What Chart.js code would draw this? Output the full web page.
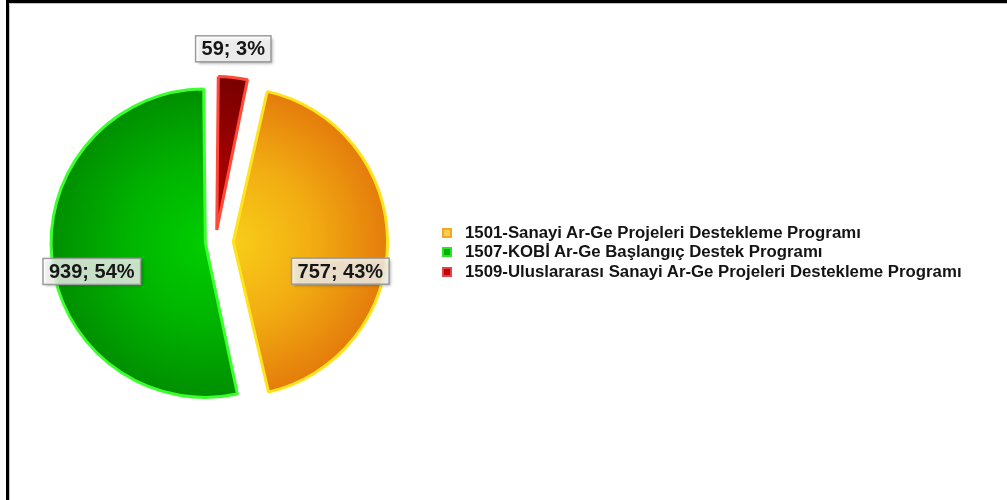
<!DOCTYPE html>
<html lang="tr">
<head>
<meta charset="utf-8">
<title>Program bazında proje sayıları</title>
<script src="https://cdn.jsdelivr.net/npm/chart.js@4.4.1/dist/chart.umd.min.js"></script>
<style>
  html, body { margin: 0; padding: 0; background: #fff; }
  #wrap { position: relative; width: 1007px; height: 500px; overflow: hidden; }
  #frame {
    position: absolute; left: 6px; top: 0; right: 0; bottom: 0;
    border-left: 3px solid #000; border-top: 3px solid #000;
    box-shadow: inset 1px 1px 0 #c4c4c4;
  }
  #chart { position: absolute; left: 0; top: 0; }
  #legend {
    position: absolute; left: 442px; top: 223px;
    margin: 0; padding: 0; list-style: none;
    font: bold 16.8px "Liberation Sans", Arial, sans-serif; color: #141414;
  }
  #legend li { display: flex; align-items: center; height: 19.5px; white-space: nowrap; }
  #legend .sw { width: 6px; height: 6px; border: 2px solid; margin-right: 13px; flex: none; }
</style>
</head>
<body>
<div id="wrap">
  <div id="frame"></div>
  <canvas id="chart" width="1007" height="500"></canvas>
  <ul id="legend"></ul>
</div>
<script>
// ── Data ───────────────────────────────────────────────────────────────────────
const PROGRAMS = [
  '1501-Sanayi Ar-Ge Projeleri Destekleme Programı',
  '1507-KOBİ Ar-Ge Başlangıç Destek Programı',
  '1509-Uluslararası Sanayi Ar-Ge Projeleri Destekleme Programı',
];
const PROJECTS = [757, 939, 59];

const TOTAL = PROJECTS.reduce((a, b) => a + b, 0);

// ── Slice look ─────────────────────────────────────────────────────────────────
const FILL_CENTER = ['#f8cd19', '#00cd00', '#c20000'];
const FILL_MID    = ['#f2ad12', '#00b400', '#9c0000'];
const FILL_EDGE   = ['#e47b0b', '#008e00', '#780000'];
const EDGE_LINE   = ['#ffe31f', '#3cff2e', '#ff4a3a'];
const SWATCH_RIM  = ['#f2a91e', '#2fe02f', '#e04646'];
const SWATCH_CORE = ['#f8cd5c', '#00b300', '#c40000'];
const EXPLODE     = [71, 41, 48];   // arc 'offset' (Chart.js moves the arc by offset / 4)
const RADIUS = 144;

// value boxes: fraction along the slice sweep, distance from the slice tip
const LABEL_SWEEP = [0.6, 0.46, 0.43];
const LABEL_DIST  = [111, 117, 182];

// the small slice sits at 12 o'clock, the first one starts right after it
const ROTATION = PROJECTS[2] / TOTAL * 360;

function sliceGeometry(chart, i) {
  const area = chart.chartArea;
  const cx = (area.left + area.right) / 2;
  const cy = (area.top + area.bottom) / 2;
  let start = (ROTATION - 90) * Math.PI / 180;
  for (let k = 0; k < i; k++) start += PROJECTS[k] / TOTAL * 2 * Math.PI;
  const end = start + PROJECTS[i] / TOTAL * 2 * Math.PI;
  const mid = (start + end) / 2;
  const shift = EXPLODE[i] / 4;
  return { cx, cy, x: cx + Math.cos(mid) * shift, y: cy + Math.sin(mid) * shift, start, end };
}

function sliceFill(ctx) {
  const i = ctx.dataIndex;
  const chart = ctx.chart;
  if (!chart.chartArea) return FILL_EDGE[i];
  // arcs are drawn after a translate, so the gradient stays on the pie centre
  const g = sliceGeometry(chart, i);
  const grad = chart.ctx.createRadialGradient(g.cx, g.cy, 0, g.cx, g.cy, RADIUS + 12);
  grad.addColorStop(0, FILL_CENTER[i]);
  grad.addColorStop(0.5, FILL_MID[i]);
  grad.addColorStop(1, FILL_EDGE[i]);
  return grad;
}

// ── "value; percent" boxes ─────────────────────────────────────────────────────
const valueBoxes = {
  id: 'valueBoxes',
  afterDatasetsDraw(chart) {
    const ctx = chart.ctx;
    ctx.save();
    ctx.font = 'bold 20px "Liberation Sans", Arial, sans-serif';
    ctx.textAlign = 'center';
    ctx.textBaseline = 'middle';
    PROJECTS.forEach((v, i) => {
      const g = sliceGeometry(chart, i);
      const a = g.start + (g.end - g.start) * LABEL_SWEEP[i];
      const x = g.x + Math.cos(a) * LABEL_DIST[i];
      const y = g.y + Math.sin(a) * LABEL_DIST[i];
      const text = `${v}; ${Math.round(v / TOTAL * 100)}%`;
      const w = ctx.measureText(text).width + 12;
      const h = 26;

      ctx.save();
      ctx.shadowColor = 'rgba(0, 0, 0, 0.45)';
      ctx.shadowBlur = 3;
      ctx.shadowOffsetX = 2;
      ctx.shadowOffsetY = 2;
      ctx.fillStyle = 'rgba(255, 255, 255, 0.78)';
      ctx.fillRect(x - w / 2, y - h / 2, w, h);
      ctx.restore();

      ctx.strokeStyle = '#9b9b9b';
      ctx.lineWidth = 1.5;
      ctx.strokeRect(x - w / 2, y - h / 2, w, h);
      ctx.fillStyle = '#161616';
      ctx.fillText(text, x, y + 1);
    });
    ctx.restore();
  },
};

// ── Chart ──────────────────────────────────────────────────────────────────────
const chart = new Chart(document.getElementById('chart'), {
  type: 'pie',
  data: {
    labels: PROGRAMS,
    datasets: [{
      data: PROJECTS,
      backgroundColor: sliceFill,
      borderColor: EDGE_LINE,
      borderWidth: 3,
      offset: EXPLODE,
      hoverOffset: 0,
    }],
  },
  options: {
    responsive: false,
    animation: false,
    rotation: ROTATION,
    radius: RADIUS,
    // pie keeps to the left part of the canvas, the legend list sits to its right
    layout: { padding: { left: 0, right: 576, top: 0, bottom: 16 } },
    plugins: {
      tooltip: { enabled: false },
      legend: { display: false },
    },
  },
  plugins: [valueBoxes],
});

// ── Legend (too wide for Chart.js's side-legend limit, so it is a list) ─────────
const legendEl = document.getElementById('legend');
chart.data.labels.forEach((text, i) => {
  const li = document.createElement('li');
  const sw = document.createElement('span');
  sw.className = 'sw';
  sw.style.borderColor = SWATCH_RIM[i];
  sw.style.background = SWATCH_CORE[i];
  li.appendChild(sw);
  li.appendChild(document.createTextNode(text));
  legendEl.appendChild(li);
});
</script>
</body>
</html>
